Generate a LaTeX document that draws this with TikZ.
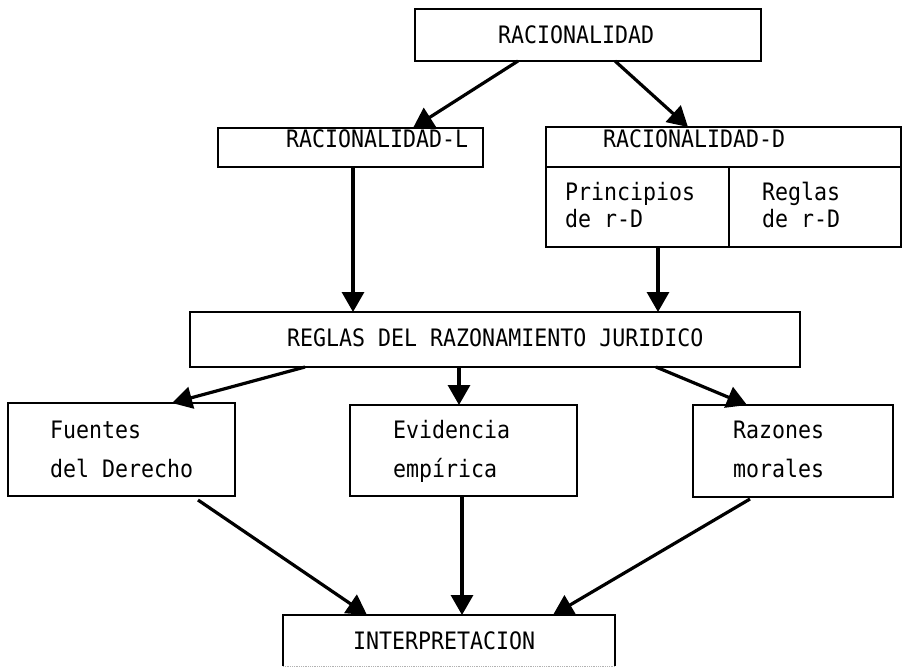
\documentclass[tikz,border=0pt]{standalone}
\usepackage{fontspec}
\newfontfamily\tw{DejaVu Sans Mono}[FakeStretch=0.9]
\usetikzlibrary{arrows.meta}
\begin{document}
\begin{tikzpicture}[x=1pt,y=-1pt,
  boxnode/.style={draw,line width=2pt,inner sep=0pt,outer sep=0pt,rectangle},
  openbox/.style={inner sep=0pt,outer sep=0pt,rectangle},
  lbl/.style={anchor=base west,inner sep=0pt,font=\tw\fontsize{24}{28}\selectfont},
  arr/.style={line width=3.2pt,-{Triangle[length=20pt,width=22pt]}},
  divider/.style={line width=2pt}]
\fill[white] (0,0) rectangle (902,667);
\useasboundingbox (0,0) rectangle (902,667);

% boxes
\node[boxnode,minimum width=346pt,minimum height=52pt] (top) at (588,35) {};
\node[boxnode,minimum width=265pt,minimum height=39pt] (L) at (350.5,147.5) {};
\node[boxnode,minimum width=355pt,minimum height=120pt] (D) at (723.5,187) {};
\node[boxnode,minimum width=610pt,minimum height=55pt] (R) at (495,339.5) {};
\node[boxnode,minimum width=227pt,minimum height=93pt] (F) at (121.5,449.5) {};
\node[boxnode,minimum width=227pt,minimum height=91pt] (E) at (463.5,450.5) {};
\node[boxnode,minimum width=200pt,minimum height=92pt] (M) at (793,451) {};
\node[openbox,minimum width=332pt,minimum height=51pt] (I) at (449,640.5) {};
\draw[divider] (I.south west) -- (I.north west) -- (I.north east) -- (I.south east);
\draw[densely dotted,gray!60,line width=0.8pt] (I.south west) -- (I.south east);

% dividers of RACIONALIDAD-D
\draw[divider] ([yshift=-40pt]D.north west) -- ([yshift=-40pt]D.north east);
\draw[divider] ([xshift=183pt,yshift=-40pt]D.north west) -- ([xshift=183pt]D.south west);

% labels
\node[lbl] (t1) at (498,43) {RACIONALIDAD};
\node[lbl] (t2) at (286,147) {RACIONALIDAD-L};
\node[lbl] (t3) at (603,147) {RACIONALIDAD-D};
\node[lbl] (t4) at (565,200) {Principios};
\node[lbl] (t5) at (565,227) {de r-D};
\node[lbl] (t6) at (762,200) {Reglas};
\node[lbl] (t7) at (762,227) {de r-D};
\node[lbl] (t8) at (287,346) {REGLAS DEL RAZONAMIENTO JURIDICO};
\node[lbl] (t9) at (50,438) {Fuentes};
\node[lbl] (t10) at (50,477) {del Derecho};
\node[lbl] (t11) at (393,438) {Evidencia};
\node[lbl] (t12) at (393,477) {empírica};
\node[lbl] (t13) at (733,438) {Razones};
\node[lbl] (t14) at (733,477) {morales};
\node[lbl] (t15) at (353,649) {INTERPRETACION};

% connectors
\draw[arr] ([xshift=-70pt]top.south) -- ([xshift=62.5pt]L.north);
\draw[arr] ([xshift=27pt]top.south) -- ([xshift=-35.5pt]D.north);
\draw[arr] ([xshift=2.5pt]L.south) -- ([xshift=-142pt]R.north);
\draw[arr] ([xshift=-65.5pt]D.south) -- ([xshift=163pt]R.north);
\draw[arr] ([xshift=-190pt]R.south) -- ([xshift=50.5pt]F.north);
\draw[arr] ([xshift=-36pt]R.south) -- ([xshift=-4.5pt]E.north);
\draw[arr] ([xshift=161pt]R.south) -- ([xshift=-46pt]M.north);
\draw[arr] ([xshift=76.5pt,yshift=-4pt]F.south) -- ([xshift=-82pt]I.north);
\draw[arr] ([xshift=-1.5pt]E.south) -- ([xshift=13pt]I.north);
\draw[arr] ([xshift=-43pt,yshift=-2pt]M.south) -- ([xshift=104pt]I.north);
\end{tikzpicture}
\end{document}
